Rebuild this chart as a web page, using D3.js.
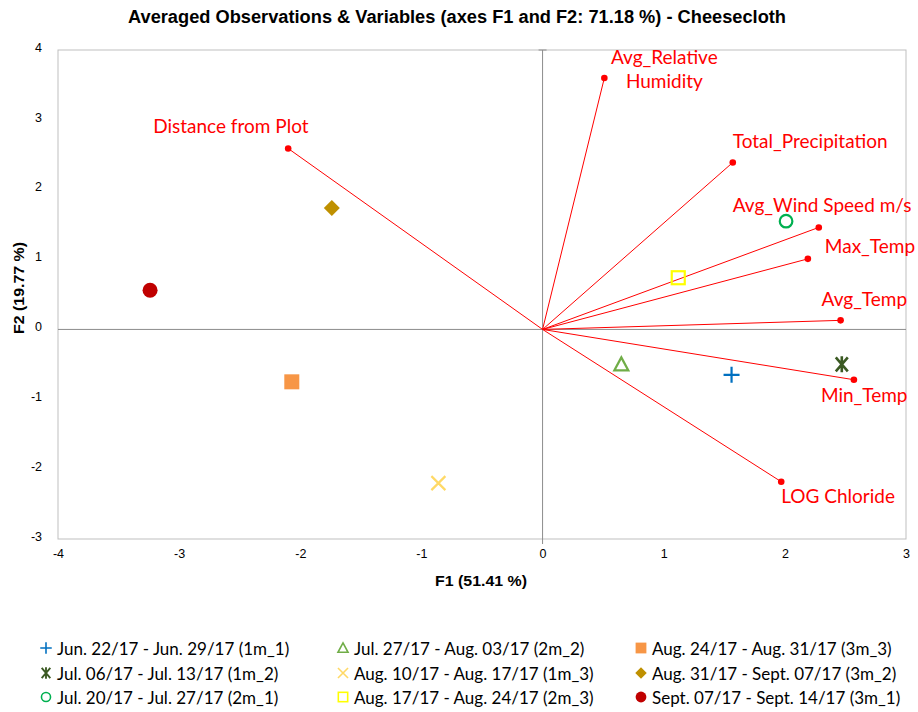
<!DOCTYPE html>
<html><head><meta charset="utf-8">
<script src="https://cdn.jsdelivr.net/npm/d3@7"></script>
<style>body{margin:0;background:#fff}svg{display:block}</style>
</head><body><svg id="c" width="918" height="712"></svg>
<script>
// Variables (loadings)
const varNames = ["Avg_Relative Humidity","Total_Precipitation","Avg_Wind Speed m/s","Max_Temp","Avg_Temp","Min_Temp","LOG Chloride","Distance from Plot"];
const varF1 = [0.51, 1.57, 2.28, 2.19, 2.46, 2.57, 1.97, -2.10];
const varF2 = [3.60, 2.39, 1.46, 1.01, 0.13, -0.72, -2.18, 2.59];
// Observations
const obsNames = ["Jun. 22/17 - Jun. 29/17 (1m_1)","Jul. 06/17 - Jul. 13/17 (1m_2)","Jul. 20/17 - Jul. 27/17 (2m_1)",
  "Jul. 27/17 - Aug. 03/17 (2m_2)","Aug. 10/17 - Aug. 17/17 (1m_3)","Aug. 17/17 - Aug. 24/17 (2m_3)",
  "Aug. 24/17 - Aug. 31/17 (3m_3)","Aug. 31/17 - Sept. 07/17 (3m_2)","Sept. 07/17 - Sept. 14/17 (3m_1)"];
const obsF1 = [1.56, 2.47, 2.01, 0.65, -0.86, 1.12, -2.07, -1.74, -3.24];
const obsF2 = [-0.65, -0.50, 1.55, -0.50, -2.20, 0.74, -0.75, 1.74, 0.56];
const obsShape = ["plus","asterisk","circleOpen","triangleOpen","cross","squareOpen","square","diamond","circle"];
const obsColor = ["#0070C0","#3B5A23","#00B050","#70AD47","#FFD966","#FFFF00","#F79646","#BF9000","#C00000"];
const xTicks = [-4,-3,-2,-1,0,1,2,3];
const yTicks = [-3,-2,-1,0,1,2,3,4];

const svg = d3.select("#c");
const x = d3.scaleLinear().domain([-4,3]).range([58,906]);
const y = d3.scaleLinear().domain([-3,4]).range([539,50]);
const red = "#FF0000";
const tickFont = "'Liberation Sans Narrow','Liberation Sans',Arial,sans-serif";

// title
svg.append("text").attr("x",457).attr("y",23).attr("text-anchor","middle")
  .attr("font-family","'Liberation Sans',Arial,sans-serif").attr("font-weight","bold").attr("font-size",18)
  .attr("textLength",658).attr("lengthAdjust","spacingAndGlyphs")
  .text("Averaged Observations & Variables (axes F1 and F2: 71.18 %) - Cheesecloth");

// frame
svg.append("rect").attr("x",x(-4)).attr("y",y(4)).attr("width",x(3)-x(-4)).attr("height",y(-3)-y(4))
  .attr("fill","none").attr("stroke","#BFBFBF").attr("stroke-width",1);

// center axes
svg.append("line").attr("x1",x(-4)).attr("x2",x(3)).attr("y1",y(0)).attr("y2",y(0)).attr("stroke","#8C8C8C");
svg.append("line").attr("x1",x(0)).attr("x2",x(0)).attr("y1",y(4)).attr("y2",y(-3)+5).attr("stroke","#8C8C8C");
svg.append("line").attr("x1",x(0)-4).attr("x2",x(0)+4).attr("y1",y(4)).attr("y2",y(4)).attr("stroke","#8C8C8C");

// axis tick labels via d3 axes
const xAxis = svg.append("g").attr("transform",`translate(0,${y(-3)})`)
  .call(d3.axisBottom(x).tickValues(xTicks).tickSize(0).tickPadding(10).tickFormat(d=>String(d)));
const yAxis = svg.append("g").attr("transform",`translate(${x(-4)},0)`)
  .call(d3.axisLeft(y).tickValues(yTicks).tickSize(0).tickPadding(16).tickFormat(d=>String(d)));
[xAxis,yAxis].forEach(g=>{
  g.select(".domain").remove();
  g.selectAll("text").attr("font-family",tickFont).attr("font-size",12.5).attr("fill","#000");
});
yAxis.selectAll("text").attr("dy","0.1em");

// axis titles
svg.append("text").attr("x",481).attr("y",586).attr("text-anchor","middle")
  .attr("font-family","'Liberation Sans',Arial,sans-serif").attr("font-weight","bold").attr("font-size",15)
  .attr("textLength",92).attr("lengthAdjust","spacingAndGlyphs")
  .text("F1 (51.41 %)");
svg.append("text").attr("transform",`translate(24,288) rotate(-90)`).attr("text-anchor","middle")
  .attr("font-family","'Liberation Sans',Arial,sans-serif").attr("font-weight","bold").attr("font-size",15)
  .attr("textLength",92).attr("lengthAdjust","spacingAndGlyphs")
  .text("F2 (19.77 %)");

// variable vectors
const vars = varNames.map((n,i)=>({n,f1:varF1[i],f2:varF2[i]}));
svg.selectAll("line.v").data(vars).join("line").attr("class","v")
  .attr("x1",x(0)).attr("y1",y(0)).attr("x2",d=>x(d.f1)).attr("y2",d=>y(d.f2))
  .attr("stroke",red).attr("stroke-width",1);
svg.selectAll("circle.v").data(vars).join("circle").attr("class","v")
  .attr("cx",d=>x(d.f1)).attr("cy",d=>y(d.f2)).attr("r",3.3).attr("fill",red);

// variable labels (offsets relative to point)
const labelFont = "Lato, 'Open Sans', sans-serif";
const labOff = {
  "Avg_Relative Humidity":{dx:60,dy:-22,anchor:"middle",lines:["Avg_Relative","Humidity"]},
  "Total_Precipitation":{dx:0,dy:-22,anchor:"start"},
  "Avg_Wind Speed m/s":{dx:-86,dy:-23,anchor:"start"},
  "Max_Temp":{dx:17,dy:-14,anchor:"start"},
  "Avg_Temp":{dx:-19,dy:-22,anchor:"start"},
  "Min_Temp":{dx:-33,dy:14,anchor:"start"},
  "LOG Chloride":{dx:0,dy:13,anchor:"start"},
  "Distance from Plot":{dx:-135,dy:-23,anchor:"start"}
};
vars.forEach(d=>{
  const o = labOff[d.n];
  const t = svg.append("text").attr("x",x(d.f1)+o.dx).attr("y",y(d.f2)+o.dy)
    .attr("text-anchor",o.anchor).attr("font-family",labelFont).attr("font-size",19)
    .attr("fill",red).attr("dominant-baseline","central");
  const lines = o.lines || [d.n];
  lines.forEach((l,k)=>t.append("tspan").attr("x",x(d.f1)+o.dx).attr("dy",k?24:0).text(l));
});

// marker drawing
function marker(g, shape, color, s){
  const k = s||1;
  switch(shape){
    case "plus":
      g.append("path").attr("d",`M${-8*k},0H${8*k}M0,${-8*k}V${8*k}`).attr("stroke",color).attr("stroke-width",2.2*k).attr("fill","none"); break;
    case "asterisk":
      g.append("path").attr("d",`M${-6*k},${-7*k}L${6*k},${7*k}M${6*k},${-7*k}L${-6*k},${7*k}M0,${-8*k}V${8*k}`).attr("stroke",color).attr("stroke-width",2.6*k).attr("fill","none"); break;
    case "circleOpen":
      g.append("circle").attr("r",6.3*k).attr("fill","none").attr("stroke",color).attr("stroke-width",2.2*k); break;
    case "triangleOpen":
      g.append("path").attr("d",`M0,${-7*k}L${7*k},${6*k}L${-7*k},${6*k}Z`).attr("fill","none").attr("stroke",color).attr("stroke-width",2.2*k); break;
    case "cross":
      g.append("path").attr("d",`M${-7*k},${-7*k}L${7*k},${7*k}M${7*k},${-7*k}L${-7*k},${7*k}`).attr("stroke",color).attr("stroke-width",2.2*k).attr("fill","none"); break;
    case "squareOpen":
      g.append("rect").attr("x",-6.5*k).attr("y",-6.5*k).attr("width",13*k).attr("height",13*k).attr("fill","none").attr("stroke",color).attr("stroke-width",2.2*k); break;
    case "square":
      g.append("rect").attr("x",-7.5*k).attr("y",-7.5*k).attr("width",15*k).attr("height",15*k).attr("fill",color); break;
    case "diamond":
      g.append("path").attr("d",`M0,${-8*k}L${8*k},0L0,${8*k}L${-8*k},0Z`).attr("fill",color); break;
    case "circle":
      g.append("circle").attr("r",7.5*k).attr("fill",color); break;
  }
}
const obs = obsNames.map((n,i)=>({n,f1:obsF1[i],f2:obsF2[i],shape:obsShape[i],color:obsColor[i]}));
obs.forEach(d=>{
  const g = svg.append("g").attr("transform",`translate(${x(d.f1)},${y(d.f2)})`);
  marker(g,d.shape,d.color,1);
});

// legend (column-major, 3 rows)
const legFont = "Lato, 'Open Sans', sans-serif";
const colX = [46,343,641], rowY = [648,673,697];
obs.forEach((d,i)=>{
  const col = Math.floor(i/3), row = i%3;
  const g = svg.append("g").attr("transform",`translate(${colX[col]},${rowY[row]})`);
  marker(g,d.shape,d.color,0.72);
  g.append("text").attr("x",11).attr("y",0).attr("dominant-baseline","central")
    .attr("font-family",legFont).attr("font-size",17).attr("fill","#000").text(d.n);
});
</script></body></html>
